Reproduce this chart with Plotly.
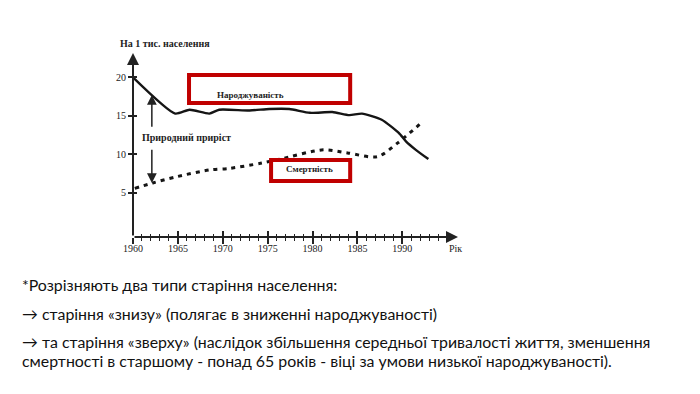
import plotly.graph_objects as go

# ---- data ----
birth_years = [1960, 1964.7, 1966.3, 1968.5, 1969.6, 1973.0, 1975.2, 1977.4, 1979.7,
               1982.2, 1984.1, 1985.5, 1987.7, 1989.6, 1990.4, 1991.5, 1992.9]
birth_rate = [20.0, 15.3, 15.8, 15.3, 15.8, 15.7, 15.9, 15.9, 15.4,
              15.5, 15.1, 15.3, 14.5, 12.8, 11.7, 10.6, 9.4]
death_years = [1960.2, 1962.2, 1964.8, 1968.6, 1970.8, 1974.2, 1976.4, 1981.2,
               1983.9, 1987.2, 1989.5, 1992.3]
death_rate = [5.6, 6.3, 7.1, 8.0, 8.2, 8.85, 9.4, 10.6, 10.2, 9.7, 11.5, 14.3]

major_years = [1960, 1965, 1970, 1975, 1980, 1985, 1990]
minor_years = [y for y in range(1961, 1996) if y % 5 != 0]
y_ticks = [5, 10, 15, 20]

x_range = [1960, 1996.2]
y_range = [-0.71, 23.16]

text_lines = [
    "*Розрізняють два типи старіння населення:",
    "→ старіння «знизу» (полягає в зниженні народжуваності)",
    "→ та старіння «зверху» (наслідок збільшення середньої тривалості життя, зменшення",
    "смертності в старшому - понад 65 років - віці за умови низької народжуваності).",
]
text_y_px = [284, 313, 341, 360]

W, H = 700, 394
SERIF = "Liberation Serif, Times New Roman, serif"
INK = "#222222"
RED = "#C00000"

fig = go.Figure()
fig.add_trace(go.Scatter(x=birth_years, y=birth_rate, mode="lines",
                         line=dict(color="#151515", width=2.4, shape="spline", smoothing=0.6),
                         showlegend=False, hoverinfo="skip"))
fig.add_trace(go.Scatter(x=death_years, y=death_rate, mode="lines",
                         line=dict(color="#151515", width=3, dash="4px,5px", shape="spline", smoothing=0.8),
                         showlegend=False, hoverinfo="skip"))
fig.add_trace(go.Scatter(x=[], y=[], xaxis="x2", yaxis="y2", showlegend=False))

xdom = [133 / W, 458 / W]
ydom = [(H - 237) / H, (H - 53) / H]

common_x = dict(range=x_range, domain=xdom, showgrid=False, zeroline=False, showline=False,
                tickvals=major_years, tickwidth=1.5, ticklen=6, tickcolor=INK, automargin=False,
                minor=dict(tickvals=minor_years, ticklen=3, tickwidth=1, tickcolor=INK))
fig.update_layout(
    width=W, height=H, margin=dict(l=0, r=0, t=0, b=0, pad=0, autoexpand=False),
    paper_bgcolor="white", plot_bgcolor="white",
    xaxis=dict(**common_x, ticks="outside", anchor="y", ticklabelstandoff=-4,
               tickfont=dict(family=SERIF, size=10, color=INK),
               minor_ticks="outside"),
    xaxis2=dict(**common_x, ticks="inside", overlaying="x", anchor="y",
                showticklabels=False, minor_ticks="inside"),
    yaxis=dict(range=y_range, domain=ydom, showgrid=False, zeroline=False, showline=False,
               tickvals=y_ticks, ticks="outside", ticklen=4, tickwidth=1.5, tickcolor=INK,
               automargin=False,
               tickfont=dict(family=SERIF, size=10, color=INK), anchor="x"),
    yaxis2=dict(range=y_range, domain=ydom, showgrid=False, zeroline=False, showline=False,
                tickvals=y_ticks, ticks="inside", ticklen=4, tickwidth=1.5, tickcolor=INK,
                automargin=False,
                showticklabels=False, overlaying="y", anchor="x"),
)

# axis lines with arrows
fig.add_annotation(x=x_range[0], y=y_range[1], ax=x_range[0], ay=y_range[0],
                   xref="x", yref="y", axref="x", ayref="y", text="", showarrow=True,
                   arrowhead=2, arrowsize=1.2, arrowwidth=2, arrowcolor=INK)
fig.add_annotation(x=x_range[1], y=y_range[0], ax=x_range[0], ay=y_range[0],
                   xref="x", yref="y", axref="x", ayref="y", text="", showarrow=True,
                   arrowhead=2, arrowsize=1.2, arrowwidth=2, arrowcolor=INK)

# natural increase arrows
fig.add_annotation(x=1962.1, y=17.7, ax=1962.1, ay=13.4, xref="x", yref="y", axref="x", ayref="y",
                   text="", showarrow=True, arrowhead=2, arrowsize=1.3, arrowwidth=1.5, arrowcolor=INK)
fig.add_annotation(x=1962.1, y=6.3, ax=1962.1, ay=10.8, xref="x", yref="y", axref="x", ayref="y",
                   text="", showarrow=True, arrowhead=2, arrowsize=1.3, arrowwidth=1.5, arrowcolor=INK)

# red boxes
fig.add_shape(type="rect", x0=1966.24, x1=1984.19, y0=16.67, y1=20.3, xref="x", yref="y",
              line=dict(color=RED, width=4), fillcolor="rgba(0,0,0,0)")
fig.add_shape(type="rect", x0=1975.38, x1=1984.19, y0=6.56, y1=9.28, xref="x", yref="y",
              line=dict(color=RED, width=4), fillcolor="rgba(0,0,0,0)")

def lab(text, xpx, ypx, size=10, anchor="center"):
    fig.add_annotation(x=xpx / W, y=(H - ypx) / H, xref="paper", yref="paper", text=text,
                       showarrow=False, xanchor=anchor, yanchor="middle",
                       font=dict(family=SERIF, size=size, color=INK))

lab("<b>На 1 тис. населення</b>", 165, 43, size=10)
lab("<b>Народжуваність</b>", 250, 95, size=9)
lab("<b>Смертність</b>", 309, 169, size=9)
lab("<b>Природний приріст</b>", 186, 137, size=10)
lab("Рік", 455, 248, size=10)

for t, ypx in zip(text_lines, text_y_px):
    fig.add_annotation(x=20 / W, y=(H - ypx) / H, xref="paper", yref="paper", text=t,
                       showarrow=False, xanchor="left", yanchor="middle",
                       font=dict(family="Lato, Carlito, sans-serif", size=15.9, color="#111111"))

fig.write_html("out.html", post_script="document.body.style.margin='0';")
